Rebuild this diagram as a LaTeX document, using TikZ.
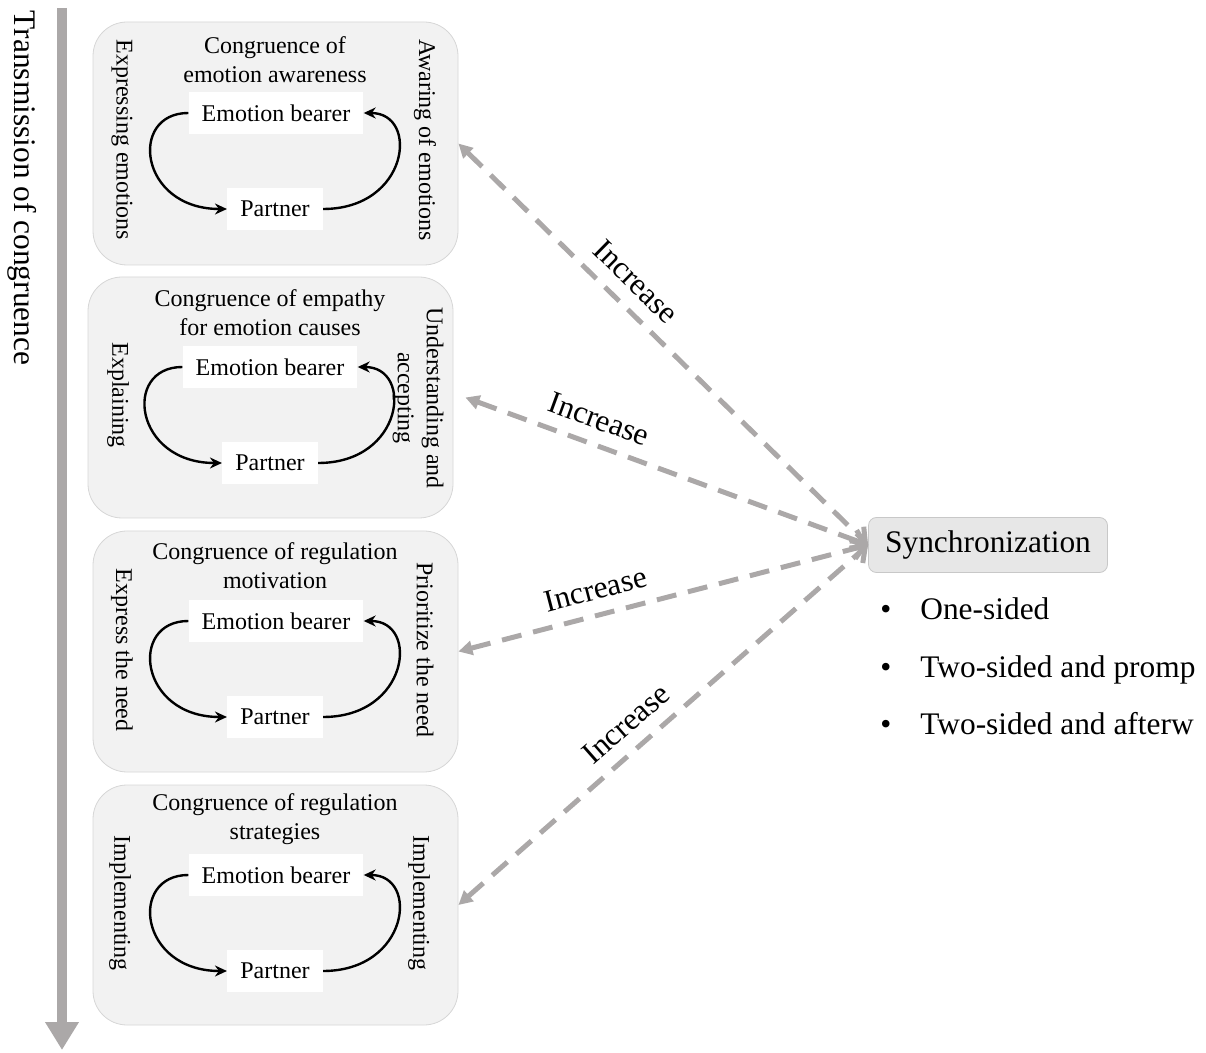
\documentclass[tikz,border=0pt]{standalone}
\usepackage{fontspec}
\setmainfont{Liberation Serif}
\usepackage{tikz}
\usetikzlibrary{positioning}
\usetikzlibrary{arrows.meta}

\definecolor{panelgray}{RGB}{242,242,242}
\definecolor{panelline}{RGB}{214,214,214}
\definecolor{flowgray}{RGB}{171,168,168}
\definecolor{syncgray}{RGB}{231,231,231}
\definecolor{syncline}{RGB}{200,200,200}

\begin{document}
\begin{tikzpicture}
			[
			x=0.5pt, y=-0.5pt,
			font=\fontsize{12}{14.5}\selectfont
			]
			
			% Styles for panels, role boxes and arrows
			\tikzstyle{panel}=[draw=panelline,fill=panelgray,rounded corners=17pt,minimum width=182.5pt,inner sep=0];
			\tikzstyle{role}=[fill=white,minimum height=21pt,inner xsep=6.5pt,inner ysep=0];
			\tikzstyle{side}=[rotate=-90,align=center];
			\tikzstyle{big}=[font=\fontsize{15.7}{19}\selectfont];
			\tikzstyle{cycle}=[line width=1.2pt,-{Stealth[length=6pt,width=5.5pt]}];
			\tikzstyle{boost}=[draw=flowgray,line width=2.5pt,dash pattern=on 10pt off 6pt,{Triangle[length=7pt,width=7pt]}-{Straight Barb[length=6pt,width=10pt]}];
			
			\useasboundingbox (0,0) rectangle (1206,1053);
			
			% Transmission arrow
			\coordinate (top) at (62,8);
			\coordinate (bottom) at (62,1050);
			\draw[line width=5pt,draw=flowgray,-{Triangle[length=14pt,width=16pt]}] (top) -- (bottom);
			\node[big,rotate=-90] (trans) at (22,188) {Transmission of congruence};
			
			% Panel 1: emotion awareness
			\node[panel,minimum height=121.5pt] (b1) at (275.5,143.5) {};
			\node[align=center] (t1) at (275,59.5) {Congruence of\\emotion awareness};
			\node[role] (e1) at (276,113) {Emotion bearer};
			\node[role] (p1) at (275,209) {Partner};
			\node[side] (l1) at (122,140) {Expressing emotions};
			\node[side] (r1) at (425,140) {Awaring of emotions};
			
			% Panel 2: empathy
			\node[panel,minimum height=120.5pt] (b2) at (270.5,397.5) {};
			\node[align=center] (t2) at (270,312.5) {Congruence of empathy\\for emotion causes};
			\node[role] (e2) at (270,367) {Emotion bearer};
			\node[role] (p2) at (270,463) {Partner};
			\node[side] (l2) at (118,395) {Explaining};
			\node[side] (r2) at (418,398) {Understanding and\\accepting};
			
			% Panel 3: regulation motivation
			\node[panel,minimum height=120.5pt] (b3) at (275.5,651.5) {};
			\node[align=center] (t3) at (275,565.5) {Congruence of regulation\\motivation};
			\node[role] (e3) at (276,621) {Emotion bearer};
			\node[role] (p3) at (275,717) {Partner};
			\node[side] (l3) at (122,650) {Express the need};
			\node[side] (r3) at (425,650) {Prioritize the need};
			
			% Panel 4: regulation strategies
			\node[panel,minimum height=120pt] (b4) at (275.5,905) {};
			\node[align=center] (t4) at (275,819.5) {Congruence of regulation\\strategies};
			\node[role] (e4) at (276,875) {Emotion bearer};
			\node[role] (p4) at (275,971) {Partner};
			\node[side] (l4) at (120,903) {Implementing};
			\node[side] (r4) at (419,903) {Implementing};
			
			% Cycles between bearer and partner
			\foreach \i in {1,...,4}{
				\draw[cycle] (e\i.west) .. controls +(-60,0) and +(-88,0) .. (p\i.west);
				\draw[cycle] (p\i.east) .. controls +(86,0) and +(56,0) .. (e\i.east);
			}
			
			% Synchronization and its kinds
			\node[big,draw=syncline,fill=syncgray,rounded corners=4pt,minimum width=119.5pt,minimum height=27.5pt] (sync) at (988,545) {Synchronization};
			\node[big,anchor=base west,inner sep=0] (one) at (880,620) {\makebox[20pt][l]{\textbullet}One-sided};
			\node[big,anchor=base west,inner sep=0] (prompt) at (880,677) {\makebox[20pt][l]{\textbullet}Two-sided and promp};
			\node[big,anchor=base west,inner sep=0] (after) at (880,734) {\makebox[20pt][l]{\textbullet}Two-sided and afterw};
			
			% Increase arrows
			\draw[boost] (b1.east) -- (sync.west) node[big,sloped,above=3pt,pos=0.39]{Increase};
			\draw[boost] ([xshift=6pt]b2.east) -- (sync.west) node[big,sloped,above=3pt,pos=0.31]{Increase};
			\draw[boost] (b3.east) -- (sync.west) node[big,sloped,above=3pt,pos=0.35]{Increase};
			\draw[boost] (b4.east) -- (sync.west) node[big,sloped,above=3pt,pos=0.45]{Increase};
			\end{tikzpicture}
\end{document}
